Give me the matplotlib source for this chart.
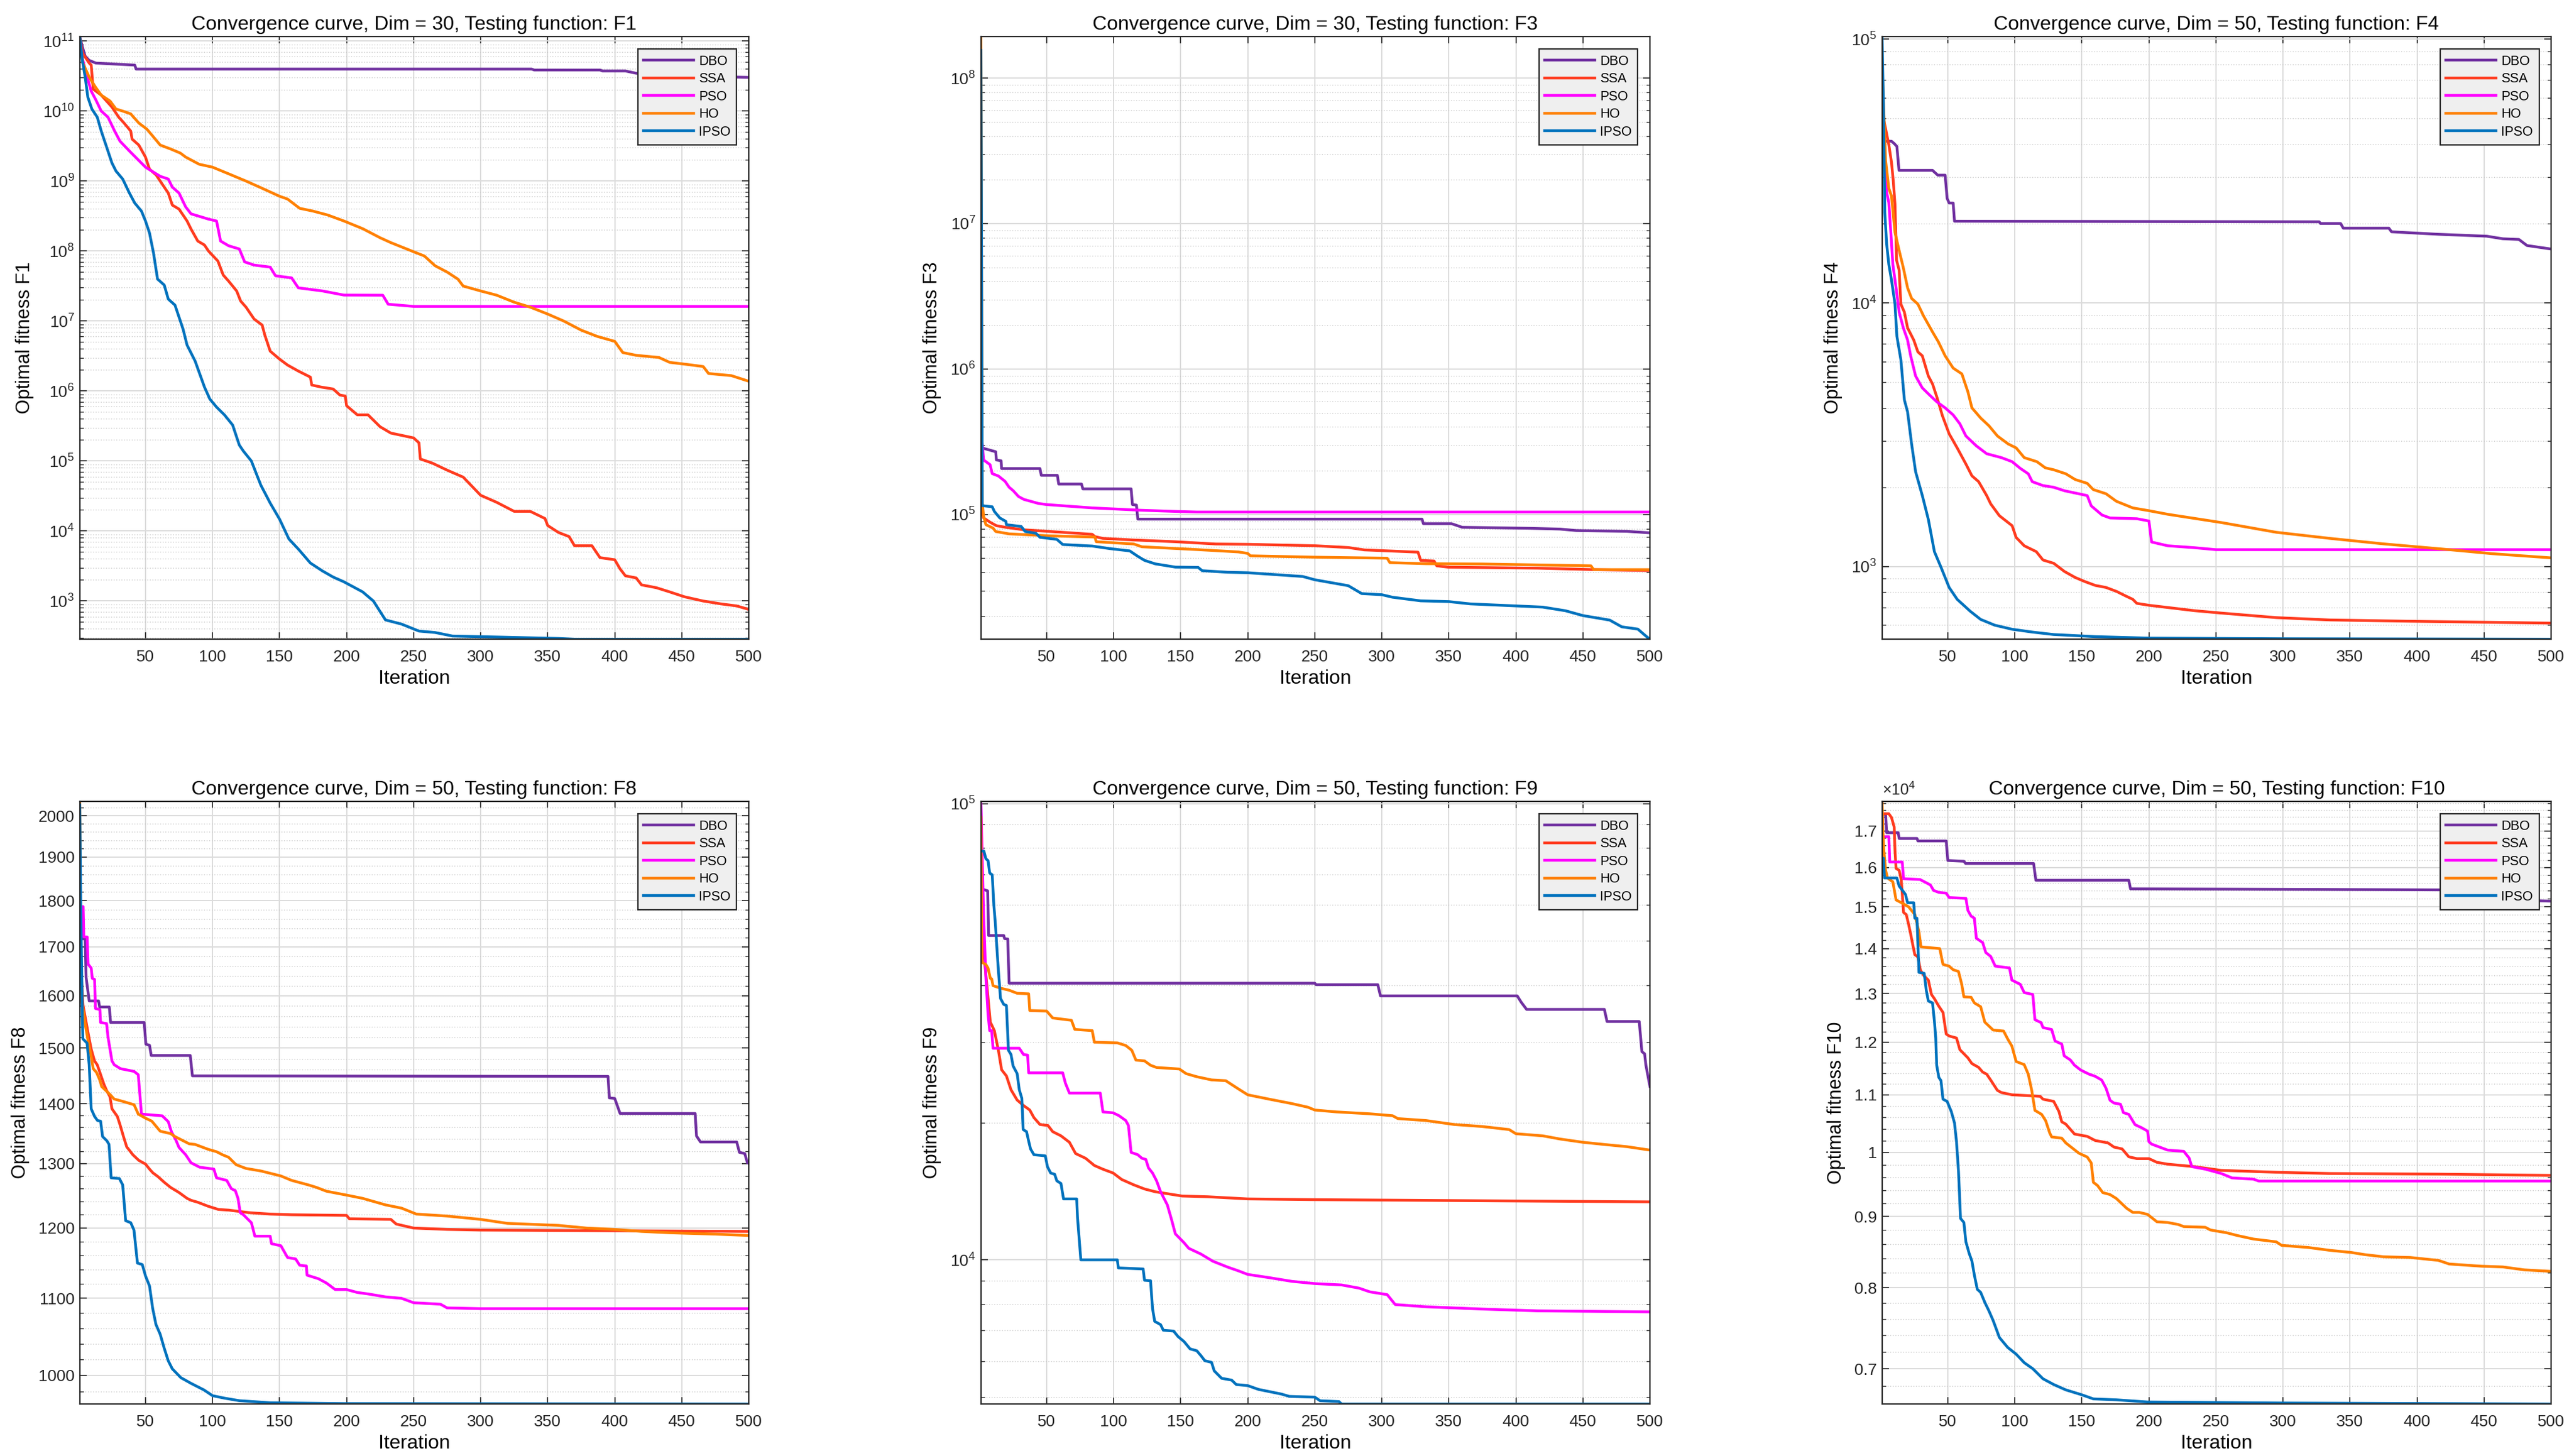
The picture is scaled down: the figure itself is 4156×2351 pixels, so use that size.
import matplotlib
matplotlib.use("Agg")
import matplotlib.pyplot as plt
from matplotlib.ticker import LogLocator, FixedLocator, FixedFormatter, NullFormatter

OUT_FILE = "out.png"

ALGOS = ["DBO", "SSA", "PSO", "HO", "IPSO"]
COLORS = ["#7030A0", "#FF3B1F", "#FF00FF", "#FF8000", "#0072BD"]

# ---------------- F1, Dim = 30 ----------------
f1_dbo_x = [1, 3, 5, 8, 13, 42, 43, 338, 340, 389, 391, 408, 416, 427, 441, 483, 500]
f1_dbo_y = [1.15e11, 8.2e10, 6.1e10, 5.3e10, 4.85e10, 4.54e10, 3.98e10, 3.98e10, 3.86e10,
            3.86e10, 3.74e10, 3.74e10, 3.47e10, 3.31e10, 3.21e10, 3.08e10, 3.03e10]
f1_ssa_x = [1, 3, 8, 9.5, 11, 17, 25, 30, 34, 39, 40, 45, 50, 53, 58, 62, 67, 70, 75, 81, 84,
            89, 94, 97, 104, 108, 112, 118, 121, 125, 131, 137, 139, 143, 150, 156, 164, 173,
            174, 181, 190, 195, 199, 200, 208, 216, 225, 233, 250, 254, 255, 264, 275, 287,
            300, 312, 325, 337, 348, 350, 358, 366, 370, 383, 389, 400, 404, 408, 416, 420,
            431, 441, 452, 466, 479, 491, 500]
f1_ssa_y = [1.14e11, 6.75e10, 4.85e10, 4.54e10, 2.06e10, 1.69e10, 1.14e10, 8.2e9, 6.75e9,
            5.18e9, 3.98e9, 3.27e9, 2.2e9, 1.48e9, 1.22e9, 9.35e8, 6.75e8, 4.54e8, 3.98e8,
            2.69e8, 2.06e8, 1.39e8, 1.22e8, 1.0e8, 7.2e7, 4.54e7, 3.72e7, 2.69e7, 1.93e7,
            1.58e7, 1.07e7, 8.77e6, 6.31e6, 3.72e6, 2.86e6, 2.35e6, 1.93e6, 1.58e6, 1.22e6,
            1.14e6, 1.07e6, 8.77e5, 8.5e5, 6.17e5, 4.57e5, 4.57e5, 3.09e5, 2.51e5, 2.14e5,
            1.82e5, 1.07e5, 9.33e4, 7.41e4, 5.89e4, 3.24e4, 2.57e4, 1.91e4, 1.91e4, 1.51e4,
            1.2e4, 9.55e3, 8.32e3, 6.17e3, 6.17e3, 4.17e3, 3.89e3, 2.88e3, 2.29e3, 2.14e3,
            1.7e3, 1.55e3, 1.35e3, 1.15e3, 1.0e3, 912, 851, 759]
f1_pso_x = [1, 3, 6.5, 9.5, 12.7, 17, 22, 27, 31, 38, 44, 50, 56, 61, 67, 70, 75, 80, 84, 90,
            97, 103, 106, 112, 120, 124, 131, 143, 147, 159, 164, 182, 198, 227, 231, 250, 500]
f1_pso_y = [1.0e11, 5.6e10, 3.06e10, 1.93e10, 1.48e10, 1.0e10, 8.2e9, 5.18e9, 3.72e9, 2.69e9,
            2.06e9, 1.58e9, 1.34e9, 1.17e9, 1.07e9, 8.2e8, 6.75e8, 4.26e8, 3.4e8, 3.14e8,
            2.86e8, 2.69e8, 1.39e8, 1.19e8, 1.07e8, 7.0e7, 6.31e7, 5.9e7, 4.43e7, 4.14e7,
            2.98e7, 2.69e7, 2.35e7, 2.34e7, 1.74e7, 1.62e7, 1.62e7]
f1_ho_x = [1, 3.3, 8, 12.7, 17, 23.6, 28, 33, 39, 45, 51, 56, 61, 69, 76, 80, 90, 100, 112,
           125, 137, 150, 156, 165, 175, 186, 198, 212, 225, 233, 250, 258, 266, 275, 283, 287,
           300, 312, 325, 337, 350, 362, 375, 387, 400, 406, 416, 433, 441, 454, 466, 470, 487,
           500]
f1_ho_y = [1.05e11, 4.85e10, 3.06e10, 2.2e10, 1.69e10, 1.39e10, 1.07e10, 1.0e10, 9.12e9,
           6.75e9, 5.53e9, 4.26e9, 3.27e9, 2.86e9, 2.51e9, 2.2e9, 1.74e9, 1.58e9, 1.27e9,
           1.0e9, 7.89e8, 6.07e8, 5.53e8, 4.08e8, 3.72e8, 3.27e8, 2.69e8, 2.09e8, 1.55e8,
           1.32e8, 9.77e7, 8.51e7, 6.17e7, 5.01e7, 3.98e7, 3.16e7, 2.69e7, 2.34e7, 1.86e7,
           1.58e7, 1.26e7, 1.0e7, 7.41e6, 6.03e6, 5.13e6, 3.55e6, 3.24e6, 3.02e6, 2.57e6,
           2.4e6, 2.24e6, 1.78e6, 1.66e6, 1.38e6]
f1_ipso_x = [1, 3, 5, 7, 10, 14, 17, 20.5, 25, 28, 33, 38, 42, 47, 50, 53, 56, 59, 64, 67, 72,
             78, 81, 87, 94, 98, 103, 109, 115, 120, 123, 129, 136, 143, 150, 157, 164, 173,
             182, 190, 198, 212, 220, 229, 241, 254, 266, 279, 316, 358, 370, 500]
f1_ipso_y = [1.15e11, 5.18e10, 3.06e10, 1.58e10, 1.07e10, 8.2e9, 5.18e9, 3.27e9, 1.81e9,
             1.39e9, 1.07e9, 6.75e8, 4.85e8, 3.72e8, 2.69e8, 1.81e8, 9.35e7, 3.98e7, 3.27e7,
             2.06e7, 1.69e7, 7.69e6, 4.54e6, 2.69e6, 1.14e6, 7.69e5, 5.9e5, 4.54e5, 3.27e5,
             1.69e5, 1.39e5, 1.0e5, 4.54e4, 2.51e4, 1.48e4, 7.69e3, 5.53e3, 3.49e3, 2.69e3,
             2.2e3, 1.88e3, 1.35e3, 1.0e3, 537, 468, 372, 355, 316, 305, 292, 285, 285]

# ---------------- F3, Dim = 30 ----------------
f3_dbo_x = [1, 4.7, 12, 12.5, 16, 16.4, 45, 46, 58, 59, 76, 77, 113, 114, 117, 118, 330, 331,
            352, 360, 410, 433, 445, 483, 500]
f3_dbo_y = [2.88e5, 2.82e5, 2.7e5, 2.37e5, 2.34e5, 2.07e5, 2.07e5, 1.86e5, 1.86e5, 1.62e5,
            1.62e5, 1.5e5, 1.5e5, 1.17e5, 1.16e5, 9.3e4, 9.3e4, 8.65e4, 8.65e4, 8.17e4, 8.04e4,
            7.94e4, 7.76e4, 7.66e4, 7.48e4]
f3_ssa_x = [1, 2, 3, 8, 12.5, 20, 33, 53, 84, 86, 92, 115, 146, 176, 200, 250, 275, 287, 327,
            329, 339, 341, 350, 416, 458, 500]
f3_ssa_y = [1.54e5, 1.05e5, 9.48e4, 8.83e4, 8.38e4, 8.15e4, 7.85e4, 7.64e4, 7.31e4, 7.05e4,
            6.85e4, 6.68e4, 6.5e4, 6.27e4, 6.24e4, 6.1e4, 5.93e4, 5.71e4, 5.51e4, 4.84e4,
            4.79e4, 4.44e4, 4.34e4, 4.28e4, 4.18e4, 4.12e4]
f3_pso_x = [1, 3, 7.8, 9.4, 14, 19, 22, 25, 29, 33, 44, 50, 84, 120, 146, 162, 500]
f3_pso_y = [3.94e5, 2.37e5, 2.2e5, 1.91e5, 1.84e5, 1.69e5, 1.54e5, 1.46e5, 1.33e5, 1.27e5,
            1.19e5, 1.17e5, 1.11e5, 1.07e5, 1.05e5, 1.04e5, 1.04e5]
f3_ho_x = [1, 2, 3, 4.7, 10, 12, 22, 53, 86, 87, 115, 121, 162, 193, 200, 202, 250, 304, 306,
           333, 375, 456, 458, 500]
f3_ho_y = [1.92e8, 1.2e5, 9.72e4, 8.51e4, 8.07e4, 7.64e4, 7.36e4, 7.13e4, 7.0e4, 6.5e4,
           6.27e4, 6.0e4, 5.74e4, 5.53e4, 5.4e4, 5.2e4, 5.09e4, 5.01e4, 4.67e4, 4.59e4,
           4.57e4, 4.44e4, 4.18e4, 4.18e4]
f3_ipso_x = [1, 2, 9.4, 11, 15, 19.5, 20, 31, 34, 42, 45, 57.6, 62, 84, 97, 112, 118, 123, 131,
             146, 163, 166, 185, 200, 241, 250, 275, 285, 300, 308, 329, 350, 366, 420, 437,
             450, 470, 479, 491, 497, 500]
f3_ipso_y = [1.55e8, 1.15e5, 1.13e5, 1.05e5, 9.48e4, 8.98e4, 8.51e4, 8.28e4, 7.64e4, 7.43e4,
             6.97e4, 6.75e4, 6.22e4, 6.07e4, 5.83e4, 5.62e4, 5.16e4, 4.84e4, 4.58e4, 4.35e4,
             4.33e4, 4.11e4, 4.01e4, 3.98e4, 3.75e4, 3.56e4, 3.24e4, 2.86e4, 2.81e4, 2.7e4,
             2.55e4, 2.52e4, 2.43e4, 2.31e4, 2.18e4, 2.02e4, 1.88e4, 1.69e4, 1.63e4, 1.46e4,
             1.39e4]

# ---------------- F4, Dim = 50 ----------------
f4_dbo_x = [1, 8, 10, 12, 13.6, 38.6, 42.5, 48, 49.5, 51, 54, 55, 327, 328, 343, 345, 379, 381,
            416, 452, 464, 476, 482, 500]
f4_dbo_y = [4.1e4, 4.1e4, 4.02e4, 3.92e4, 3.18e4, 3.18e4, 3.05e4, 3.05e4, 2.49e4, 2.39e4,
            2.39e4, 2.04e4, 2.03e4, 2.0e4, 2.0e4, 1.92e4, 1.92e4, 1.86e4, 1.82e4, 1.79e4,
            1.75e4, 1.74e4, 1.65e4, 1.6e4]
f4_ssa_x = [1, 3.6, 6, 8, 9.3, 10.6, 11.8, 13.7, 15, 17.6, 20, 24.6, 27.7, 31, 35.5, 38.6, 42,
            46, 51, 57, 63.5, 68, 73, 79, 82, 88.5, 98, 101, 107, 116, 121, 129, 137, 145, 152,
            160, 168, 176, 183, 188, 191, 200, 234, 254, 295, 335, 395, 500]
f4_ssa_y = [5.28e4, 4.58e4, 3.98e4, 3.41e4, 2.91e4, 2.37e4, 1.45e4, 1.33e4, 9.89e3, 9.23e3,
            8.04e3, 7.23e3, 6.52e3, 6.3e3, 5.28e3, 4.93e3, 4.37e3, 3.73e3, 3.19e3, 2.82e3,
            2.45e3, 2.21e3, 2.1e3, 1.86e3, 1.73e3, 1.56e3, 1.43e3, 1.29e3, 1.2e3, 1.14e3,
            1.06e3, 1.03e3, 959, 910, 879, 849, 834, 805, 773, 752, 726, 714, 681, 667, 641,
            628, 621, 611]
f4_pso_x = [1, 4.4, 6, 7.5, 9, 11.4, 13.7, 16.8, 20, 22.3, 26, 31, 35.5, 41.7, 48, 54, 59,
            63.5, 71.3, 79, 90, 98, 104, 110, 113, 121, 129, 137, 154, 157, 165, 171, 191, 200,
            202, 214, 234, 250, 500]
f4_pso_y = [5.36e4, 2.62e4, 2.4e4, 1.85e4, 1.4e4, 1.14e4, 9.23e3, 8.04e3, 7.23e3, 6.3e3,
            5.28e3, 4.76e3, 4.52e3, 4.22e3, 4.0e3, 3.76e3, 3.48e3, 3.13e3, 2.87e3, 2.68e3,
            2.59e3, 2.5e3, 2.36e3, 2.25e3, 2.1e3, 2.03e3, 2.0e3, 1.94e3, 1.86e3, 1.7e3,
            1.57e3, 1.53e3, 1.52e3, 1.49e3, 1.24e3, 1.2e3, 1.18e3, 1.16e3, 1.16e3]
f4_ho_x = [1, 3.6, 6, 8, 10.6, 13.7, 16.8, 20, 23, 27.7, 32, 38.6, 43, 48, 54, 60.5, 65, 68,
           74.5, 80.7, 87, 95, 101, 107, 116.5, 122.7, 129, 138, 145, 154, 158.5, 168, 175.7,
           188, 200, 214, 254, 295, 335, 375, 416, 456, 500]
f4_ho_y = [8.0e4, 3.47e4, 2.72e4, 2.54e4, 1.85e4, 1.58e4, 1.36e4, 1.14e4, 1.04e4, 9.89e3,
           8.91e3, 7.76e3, 7.11e3, 6.3e3, 5.66e3, 5.38e3, 4.6e3, 4.0e3, 3.66e3, 3.42e3,
           3.13e3, 2.92e3, 2.82e3, 2.59e3, 2.5e3, 2.37e3, 2.33e3, 2.25e3, 2.14e3, 2.07e3,
           1.96e3, 1.89e3, 1.77e3, 1.67e3, 1.63e3, 1.58e3, 1.47e3, 1.35e3, 1.28e3, 1.22e3,
           1.17e3, 1.12e3, 1.08e3]
f4_ipso_x = [1, 2, 3, 4.4, 6, 8, 10.6, 12, 15, 17.6, 20, 23, 26, 31, 35.5, 40, 45, 51, 57,
             66.7, 74.5, 85, 98, 113, 129, 160, 200, 300, 500]
f4_ipso_y = [1.02e5, 5.65e4, 2.2e4, 1.67e4, 1.4e4, 1.22e4, 9.89e3, 7.48e3, 6.08e3, 4.29e3,
             3.86e3, 2.92e3, 2.29e3, 1.86e3, 1.51e3, 1.14e3, 993, 834, 752, 678, 631, 600,
             579, 565, 553, 543, 536, 533, 531]

# ---------------- F8, Dim = 50 ----------------
f8_dbo_x = [1, 5, 5.7, 8, 15, 15.8, 23, 24, 49, 50.3, 53, 54.3, 83.4, 85, 395, 396, 400, 404,
            460, 461, 464, 491, 493, 497, 499, 500]
f8_dbo_y = [1717, 1717, 1637, 1590, 1590, 1578, 1578, 1548, 1548, 1507, 1505, 1486, 1486, 1449,
            1448, 1410, 1409, 1383, 1383, 1345, 1335, 1335, 1318, 1316, 1301, 1300]
f8_ssa_x = [1, 2, 3.4, 5, 7.2, 9.5, 12, 14, 16, 19, 21, 23.5, 25, 29, 31, 33.6, 36, 40.6, 45,
            50, 53, 55.5, 59.3, 64, 68.7, 75, 81, 84, 89, 96.6, 104.4, 112, 128, 143, 159, 200,
            202, 233, 237, 250, 275, 300, 500]
f8_ssa_y = [1713, 1647, 1582, 1559, 1528, 1498, 1476, 1469, 1455, 1434, 1423, 1412, 1391, 1378,
            1364, 1344, 1327, 1314, 1305, 1299, 1291, 1285, 1279, 1270, 1262, 1254, 1245, 1242,
            1239, 1233, 1228, 1227, 1223, 1221, 1220, 1219, 1214, 1213, 1206, 1200, 1198, 1197,
            1195]
f8_pso_x = [1, 3.5, 4, 6.5, 7.2, 9.5, 10.3, 12, 12.7, 16, 16.5, 21, 22, 25, 26.7, 31.3, 41.5,
            44.6, 47, 62.5, 67, 69.4, 72.5, 75, 80, 84, 90.4, 101, 103, 110.6, 114, 117, 119,
            120.7, 123, 129, 131.6, 143, 144, 151, 156, 162, 165, 170, 170.5, 179, 185, 191.5,
            200, 208, 216, 229, 241, 250, 270, 275, 300, 500]
f8_pso_y = [1787, 1787, 1721, 1721, 1664, 1656, 1635, 1633, 1575, 1573, 1548, 1546, 1521, 1476,
            1469, 1462, 1457, 1451, 1382, 1379, 1369, 1352, 1339, 1326, 1314, 1301, 1294, 1291,
            1277, 1273, 1260, 1257, 1245, 1223, 1220, 1208, 1188, 1188, 1177, 1174, 1157, 1155,
            1146, 1145, 1132, 1127, 1121, 1112, 1112, 1108, 1106, 1102, 1100, 1094, 1092, 1087,
            1086, 1086]
f8_ho_x = [1, 2, 3.4, 5, 7.2, 9.5, 11, 13.5, 16, 17.3, 20.4, 23.5, 26.6, 34.4, 41.5, 44.6, 50,
           54.7, 61, 68.7, 72, 82.6, 87, 96.7, 103, 107.5, 112, 117.6, 125, 136, 151, 159,
           171.3, 177.5, 185, 200, 212, 229, 241, 252, 275, 300, 320, 358, 379, 400, 420, 441,
           475, 500]
f8_ho_y = [2035, 1598, 1573, 1545, 1513, 1484, 1462, 1455, 1441, 1430, 1423, 1416, 1408, 1403,
           1398, 1382, 1375, 1370, 1353, 1349, 1344, 1332, 1331, 1323, 1319, 1314, 1310, 1298,
           1292, 1288, 1280, 1273, 1266, 1262, 1256, 1250, 1245, 1235, 1230, 1221, 1218, 1213,
           1207, 1204, 1200, 1198, 1195, 1193, 1191, 1189]
f8_ipso_x = [1, 1.8, 2.9, 3.3, 6.4, 8, 9.5, 12, 14.2, 16.5, 18, 21.2, 22.8, 24.4, 30.5, 33,
             35.2, 39, 41.4, 44, 47.6, 50, 53, 55.4, 57.8, 61, 64, 67, 70, 76.4, 84, 93.6, 100,
             109, 120, 143, 198, 500]
f8_ipso_y = [2027, 1773, 1559, 1517, 1509, 1469, 1391, 1378, 1371, 1370, 1344, 1337, 1331, 1277,
             1276, 1266, 1211, 1208, 1197, 1149, 1147, 1131, 1117, 1086, 1065, 1052, 1034, 1018,
             1008, 997, 990, 982, 975, 972, 969, 966.5, 965.5, 965]

# ---------------- F9, Dim = 50 ----------------
f9_dbo_x = [1, 1.6, 6, 6.7, 18, 18.6, 21, 22, 250, 251, 297, 299, 401, 404, 408, 466, 468, 492,
            494, 496, 497, 500]
f9_dbo_y = [1.0e5, 6.5e4, 6.44e4, 5.14e4, 5.14e4, 5.06e4, 5.05e4, 4.04e4, 4.04e4, 4.01e4,
            4.01e4, 3.79e4, 3.79e4, 3.67e4, 3.54e4, 3.54e4, 3.33e4, 3.33e4, 2.86e4, 2.83e4,
            2.67e4, 2.4e4]
f9_ssa_x = [1, 1.6, 3.2, 5.5, 8, 11, 14, 16.4, 20, 23.4, 28, 32.7, 37.4, 40.5, 45, 51, 54.5,
            60.7, 67, 71.6, 79, 85.6, 92, 99.6, 106, 115, 123, 131, 151, 170, 200, 250, 333, 500]
f9_ssa_y = [6.59e4, 5.71e4, 4.67e4, 3.98e4, 3.32e4, 3.18e4, 2.88e4, 2.61e4, 2.53e4, 2.36e4,
            2.24e4, 2.18e4, 2.13e4, 2.05e4, 1.98e4, 1.97e4, 1.91e4, 1.87e4, 1.81e4, 1.71e4,
            1.67e4, 1.61e4, 1.58e4, 1.55e4, 1.5e4, 1.46e4, 1.43e4, 1.41e4, 1.38e4, 1.375e4,
            1.36e4, 1.355e4, 1.35e4, 1.34e4]
f9_pso_x = [1, 3, 4.7, 6.3, 7.5, 9, 10, 29.6, 32.7, 35.8, 36.6, 62, 64, 67, 90, 92, 99.6, 104,
            109, 111, 113, 118, 121, 124, 126, 129, 132, 135, 140, 143, 146, 152.5, 156, 165,
            174, 185, 193, 200, 216, 233, 250, 270, 283, 291, 304, 310, 333, 375, 416, 500]
f9_pso_y = [1.0e5, 5.71e4, 4.14e4, 3.45e4, 3.18e4, 3.18e4, 2.91e4, 2.91e4, 2.82e4, 2.81e4,
            2.57e4, 2.57e4, 2.44e4, 2.32e4, 2.32e4, 2.11e4, 2.1e4, 2.07e4, 2.02e4, 1.97e4,
            1.72e4, 1.7e4, 1.67e4, 1.66e4, 1.59e4, 1.55e4, 1.49e4, 1.41e4, 1.32e4, 1.23e4,
            1.14e4, 1.09e4, 1.06e4, 1.03e4, 9.93e3, 9.64e3, 9.46e3, 9.29e3, 9.14e3, 8.97e3,
            8.87e3, 8.81e3, 8.67e3, 8.51e3, 8.39e3, 7.98e3, 7.89e3, 7.8e3, 7.73e3, 7.69e3]
f9_ho_x = [1, 1.6, 4.7, 6.3, 8, 9, 10, 15.6, 22, 28, 36.6, 37.4, 50, 54.5, 68.5, 71, 84, 85.6,
           102.7, 109, 113.5, 116.6, 123, 127.5, 132, 149, 154, 162, 173, 183.6, 193, 200, 216,
           233, 245, 250, 266, 291, 308, 312, 333, 354, 375, 395, 400, 420, 433, 450, 466, 483,
           500]
f9_ho_y = [9.33e4, 4.49e4, 4.44e4, 4.36e4, 4.14e4, 4.13e4, 3.99e4, 3.94e4, 3.9e4, 3.84e4,
           3.83e4, 3.52e4, 3.51e4, 3.39e4, 3.35e4, 3.2e4, 3.18e4, 3.0e4, 2.99e4, 2.95e4, 2.88e4,
           2.74e4, 2.73e4, 2.67e4, 2.64e4, 2.62e4, 2.56e4, 2.52e4, 2.48e4, 2.47e4, 2.37e4,
           2.3e4, 2.25e4, 2.2e4, 2.16e4, 2.13e4, 2.11e4, 2.09e4, 2.07e4, 2.04e4, 2.02e4,
           1.98e4, 1.96e4, 1.93e4, 1.89e4, 1.87e4, 1.84e4, 1.81e4, 1.79e4, 1.77e4, 1.74e4]
f9_ipso_x = [1, 3.2, 4.7, 6.3, 7.5, 9.4, 10.6, 11.7, 13.3, 14, 15.6, 18, 20, 21.5, 23.4, 25, 28,
             29.6, 31.5, 32.5, 35, 36.6, 38, 40.5, 49, 50.6, 53, 56, 57.6, 60.7, 62.6, 72.4, 73,
             75.5, 102.7, 103.5, 122, 123, 127.5, 129, 130.6, 135, 137, 144.7, 148, 152.5, 157,
             162, 165, 168, 173, 175, 180.5, 188, 191.4, 200, 208, 225, 231, 250, 254, 268, 270,
             500]
f9_ipso_y = [7.87e4, 7.87e4, 7.57e4, 7.5e4, 7.05e4, 6.98e4, 6.0e4, 5.48e4, 4.62e4, 4.31e4,
             3.74e4, 3.63e4, 3.61e4, 2.88e4, 2.82e4, 2.66e4, 2.56e4, 2.36e4, 2.26e4, 1.93e4,
             1.91e4, 1.82e4, 1.75e4, 1.7e4, 1.69e4, 1.6e4, 1.55e4, 1.54e4, 1.49e4, 1.47e4,
             1.36e4, 1.36e4, 1.24e4, 1.0e4, 1.0e4, 9.6e3, 9.55e3, 9.02e3, 9.0e3, 7.82e3,
             7.33e3, 7.21e3, 7.01e3, 6.98e3, 6.79e3, 6.62e3, 6.38e3, 6.32e3, 6.17e3, 6.01e3,
             5.96e3, 5.71e3, 5.5e3, 5.45e3, 5.33e3, 5.3e3, 5.2e3, 5.08e3, 5.02e3, 5.0e3, 4.91e3,
             4.89e3, 4.83e3, 4.83e3]

# ---------------- F10, Dim = 50 ----------------
f10_dbo_x = [1, 3.6, 4.4, 13, 13.7, 27, 27.7, 48.8, 50, 62, 63.3, 114, 115.7, 185, 186.3, 454,
             456, 500]
f10_dbo_y = [17480, 17480, 16950, 16950, 16790, 16790, 16720, 16720, 16190, 16170, 16110, 16110,
             15670, 15670, 15450, 15420, 15180, 15140]
f10_ssa_x = [1, 2.8, 6, 8, 10, 10.6, 11.4, 13.7, 15.3, 17, 19, 20.7, 22.3, 23.8, 25.4, 27.7,
             29.6, 32.4, 35.5, 37.8, 40, 43.3, 46.4, 48.8, 51, 56.5, 59, 62, 65, 68, 72.9, 76,
             79, 82, 87, 90, 97.8, 113, 119, 121, 129, 132.9, 135, 138, 144.5, 154, 160, 169.5,
             174, 180, 185, 191, 200, 206, 214, 234, 254, 295, 335, 416, 500]
f10_ssa_y = [17450, 17490, 17490, 17380, 17110, 16460, 15980, 15930, 15680, 14860, 14810, 14580,
             14340, 14100, 13860, 13810, 13510, 13380, 13290, 12980, 12890, 12730, 12600, 12160,
             12120, 12080, 11850, 11770, 11690, 11580, 11510, 11420, 11380, 11270, 11080, 11040,
             11000, 10980, 10970, 10920, 10880, 10700, 10520, 10480, 10310, 10270, 10200, 10160,
             10090, 10060, 9930, 9900, 9900, 9840, 9810, 9770, 9710, 9680, 9660, 9650, 9630]
f10_pso_x = [1, 6, 6.7, 16, 17, 29.3, 37, 39.4, 43.3, 48.8, 51, 63.5, 65, 67.4, 69.8, 71.3, 76,
             78.3, 82, 85.4, 96, 97.8, 104, 107, 113.4, 115, 119.6, 121, 127.5, 130, 135, 136.8,
             141.4, 144.5, 149, 155.4, 160, 164.8, 168, 171, 174, 178.8, 181, 185, 189.7, 194.4,
             199, 200, 202, 214, 226, 230, 232, 242, 254, 262, 278, 282, 500]
f10_pso_y = [16840, 16840, 16150, 16150, 15710, 15690, 15550, 15410, 15360, 15340, 15230, 15210,
             14910, 14770, 14720, 14240, 14140, 13910, 13820, 13600, 13560, 13290, 13200, 13020,
             12980, 12450, 12390, 12290, 12250, 12020, 11960, 11730, 11650, 11550, 11460, 11380,
             11340, 11270, 11120, 10900, 10850, 10830, 10680, 10650, 10470, 10420, 10360, 10180,
             10140, 10040, 10020, 9910, 9770, 9730, 9660, 9590, 9570, 9540, 9540]
f10_ho_x = [1, 1.6, 2.3, 3.6, 5, 9, 11.4, 16, 20.7, 25.4, 28.5, 30, 44, 46.4, 51, 54, 58, 60.4,
            62, 67.4, 69.8, 74.5, 77.6, 83.8, 91.6, 94.7, 97.8, 101, 107, 110, 112.6, 115, 120,
            123, 126, 127.5, 135, 138, 141.4, 147.7, 154, 157, 158.6, 161.7, 165.6, 171, 175.7,
            178.8, 183.5, 188, 192.8, 199, 206, 214, 222, 226, 242, 246, 258, 266, 278, 295, 299,
            319, 335, 351, 361, 375, 395, 416, 424, 448, 464, 480, 500]
f10_ho_y = [17840, 17000, 16460, 15940, 15730, 15630, 15170, 15090, 15000, 14810, 14390, 14040,
            14000, 13640, 13600, 13520, 13480, 13200, 12930, 12920, 12800, 12720, 12400, 12240,
            12220, 12060, 11920, 11620, 11560, 11380, 11080, 10720, 10650, 10540, 10330, 10260,
            10240, 10160, 10100, 9990, 9926, 9830, 9520, 9470, 9360, 9330, 9270, 9210, 9120,
            9060, 9060, 9030, 8920, 8910, 8880, 8850, 8840, 8800, 8760, 8720, 8670, 8630, 8580,
            8550, 8510, 8480, 8450, 8420, 8410, 8370, 8320, 8290, 8280, 8240, 8220]
f10_ipso_x = [1, 2, 2.8, 12, 13.7, 16, 18.4, 20, 24.6, 25.4, 27, 28.5, 32.4, 34, 35.5, 38.6,
              40, 41, 41.7, 43.3, 44.9, 46.4, 49.5, 52.6, 55, 56.5, 58, 59.5, 62, 63.5, 65.9,
              68, 69.8, 72, 74.5, 77.6, 80.7, 83.8, 88.5, 94.7, 101, 107, 113.4, 121, 129, 138,
              150, 158.6, 175.7, 199, 300, 500]
f10_ipso_y = [16250, 16250, 15730, 15730, 15520, 15420, 15310, 15100, 15100, 14720, 14720,
              13460, 13440, 13060, 12840, 12800, 12420, 12080, 11550, 11320, 11260, 10920,
              10880, 10700, 10500, 10180, 9690, 8970, 8910, 8630, 8470, 8360, 8170, 7980, 7940,
              7810, 7700, 7580, 7370, 7250, 7170, 7070, 7000, 6885, 6820, 6760, 6705, 6660,
              6650, 6626, 6615, 6604]

# panel: function name, dimension, curves, y-limits
PANELS = [
    ("F1", 30, [(f1_dbo_x, f1_dbo_y), (f1_ssa_x, f1_ssa_y), (f1_pso_x, f1_pso_y),
                (f1_ho_x, f1_ho_y), (f1_ipso_x, f1_ipso_y)], (285, 1.15e11)),
    ("F3", 30, [(f3_dbo_x, f3_dbo_y), (f3_ssa_x, f3_ssa_y), (f3_pso_x, f3_pso_y),
                (f3_ho_x, f3_ho_y), (f3_ipso_x, f3_ipso_y)], (1.39e4, 1.92e8)),
    ("F4", 50, [(f4_dbo_x, f4_dbo_y), (f4_ssa_x, f4_ssa_y), (f4_pso_x, f4_pso_y),
                (f4_ho_x, f4_ho_y), (f4_ipso_x, f4_ipso_y)], (531, 1.02e5)),
    ("F8", 50, [(f8_dbo_x, f8_dbo_y), (f8_ssa_x, f8_ssa_y), (f8_pso_x, f8_pso_y),
                (f8_ho_x, f8_ho_y), (f8_ipso_x, f8_ipso_y)], (965, 2035)),
    ("F9", 50, [(f9_dbo_x, f9_dbo_y), (f9_ssa_x, f9_ssa_y), (f9_pso_x, f9_pso_y),
                (f9_ho_x, f9_ho_y), (f9_ipso_x, f9_ipso_y)], (4830, 1.01e5)),
    ("F10", 50, [(f10_dbo_x, f10_dbo_y), (f10_ssa_x, f10_ssa_y), (f10_pso_x, f10_pso_y),
                 (f10_ho_x, f10_ho_y), (f10_ipso_x, f10_ipso_y)], (6604, 17840)),
]

F8_TICKS = [1000, 1100, 1200, 1300, 1400, 1500, 1600, 1700, 1800, 1900, 2000]
F10_TICKS = [7000, 8000, 9000, 10000, 11000, 12000, 13000, 14000, 15000, 16000, 17000]
F10_LABELS = ["0.7", "0.8", "0.9", "1", "1.1", "1.2", "1.3", "1.4", "1.5", "1.6", "1.7"]

LEFTS = [0.0310, 0.3811, 0.7312]
BOTTOMS = [0.5610, 0.0357]
W, H = 0.2599, 0.4137

DARK = "#262626"

plt.rcParams["font.family"] = ["Liberation Sans", "DejaVu Sans"]
plt.rcParams["mathtext.fontset"] = "custom"
plt.rcParams["mathtext.rm"] = "Liberation Sans"
plt.rcParams["mathtext.default"] = "regular"


def style_axes(ax, name):
    ax.set_yscale("log")
    if name == "F8":
        ax.yaxis.set_major_locator(FixedLocator(F8_TICKS))
        ax.yaxis.set_major_formatter(FixedFormatter([str(t) for t in F8_TICKS]))
        ax.yaxis.set_minor_locator(FixedLocator(list(range(960, 2041, 20))))
    elif name == "F10":
        ax.yaxis.set_major_locator(FixedLocator(F10_TICKS))
        ax.yaxis.set_major_formatter(FixedFormatter(F10_LABELS))
        ax.yaxis.set_minor_locator(FixedLocator(list(range(6600, 17900, 200))))
        ax.text(0.0, 1.006, r"$\times10^{4}$", transform=ax.transAxes,
                ha="left", va="bottom", fontsize=9, color=DARK)
    else:
        ax.yaxis.set_major_locator(LogLocator(base=10, numticks=20))
        ax.yaxis.set_minor_locator(LogLocator(base=10, subs=[2, 3, 4, 5, 6, 7, 8, 9],
                                              numticks=200))
    ax.yaxis.set_minor_formatter(NullFormatter())

    ax.set_xlim(1, 500)
    ax.set_xticks(list(range(50, 501, 50)))
    ax.grid(True, which="major", color="#dcdcdc", lw=0.7, ls="-")
    ax.grid(True, which="minor", axis="y", color="#c8c8c8", lw=0.5, ls=(0, (1, 2)))
    ax.set_axisbelow(True)
    ax.tick_params(which="both", direction="in", top=True, right=True, colors=DARK,
                   labelsize=9.5)
    ax.tick_params(which="major", length=4, width=0.6)
    ax.tick_params(which="minor", length=2, width=0.5)
    ax.tick_params(axis="x", pad=6)
    ax.tick_params(axis="y", pad=3)
    for sp in ax.spines.values():
        sp.set_color(DARK)
        sp.set_linewidth(0.8)


def main():
    fig = plt.figure(figsize=(20.78, 11.755), dpi=200)

    for i, (name, dim, curves, ylim) in enumerate(PANELS):
        ax = fig.add_axes([LEFTS[i % 3], BOTTOMS[i // 3], W, H])
        for (xs, ys), algo, col in zip(curves, ALGOS, COLORS):
            ax.plot(xs, ys, color=col, lw=1.6, label=algo)
        style_axes(ax, name)
        ax.set_ylim(*ylim)

        ax.set_title(f"Convergence curve, Dim = {dim}, Testing function: {name}",
                     fontsize=11.5, pad=4, color="black")
        ax.set_xlabel("Iteration", fontsize=11.5, labelpad=3)
        ax.set_ylabel(f"Optimal fitness {name}", fontsize=11, labelpad=5)

        leg = ax.legend(loc="upper right", fontsize=7.8, handlelength=3.7,
                        handletextpad=0.4, labelspacing=0.35, borderpad=0.45,
                        borderaxespad=0.9, fancybox=False, framealpha=1)
        leg.get_frame().set_facecolor("#efefef")
        leg.get_frame().set_edgecolor(DARK)
        leg.get_frame().set_linewidth(0.8)

    fig.savefig(OUT_FILE, dpi=200)


if __name__ == "__main__":
    main()
